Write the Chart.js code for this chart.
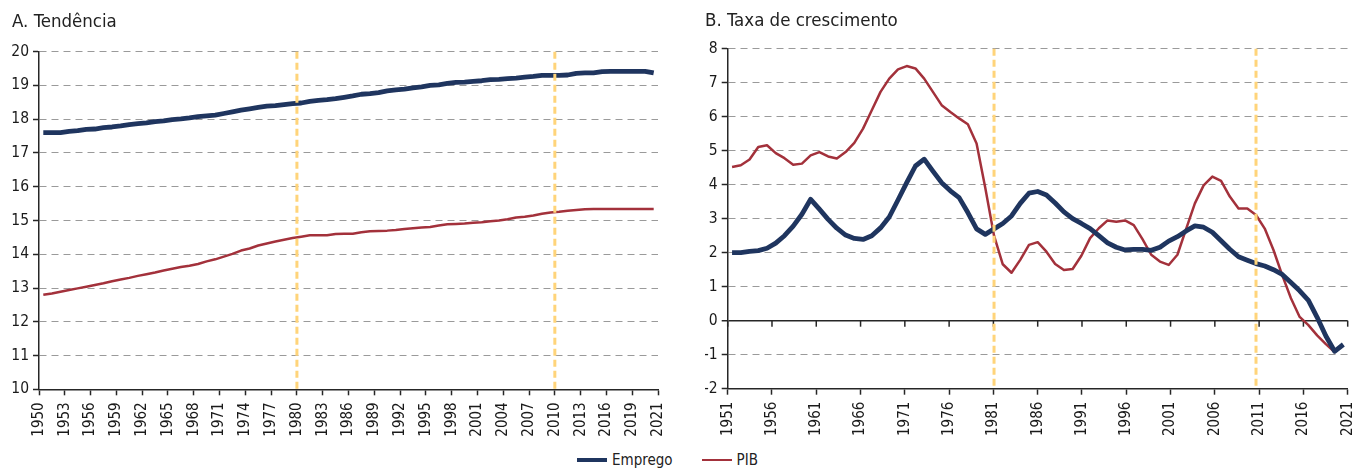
<!DOCTYPE html>
<html>
<head>
<meta charset="utf-8">
<script src="https://cdn.jsdelivr.net/npm/chart.js@4/dist/chart.umd.min.js"></script>
<style>
  body { margin: 0; background: #fff; width: 1355px; height: 468px; position: relative; overflow: hidden; }
  #boxA { position: absolute; left: 0; top: 0; width: 680px; height: 445px; }
  #boxB { position: absolute; left: 680px; top: 0; width: 675px; height: 445px; }
  #legenda { position: absolute; left: 577px; top: 449px; height: 22px; display: flex; align-items: center;
    font-family: 'DejaVu Sans Condensed', 'Liberation Sans Narrow', Arial, sans-serif; font-size: 15px; color: #222; }
  #legenda .item { display: flex; align-items: center; margin-right: 29px; }
  #legenda .amostra { width: 30px; margin-right: 5px; }
</style>
</head>
<body>
<div id="boxA"><canvas id="chartA" width="680" height="445"></canvas></div>
<div id="boxB"><canvas id="chartB" width="675" height="445"></canvas></div>
<div id="legenda"></div>
<script>
// painel A: tendência (anos 1950-2021)
const anosTendencia = [
  1950, 1951, 1952, 1953, 1954, 1955, 1956, 1957, 1958, 1959,
  1960, 1961, 1962, 1963, 1964, 1965, 1966, 1967, 1968, 1969,
  1970, 1971, 1972, 1973, 1974, 1975, 1976, 1977, 1978, 1979,
  1980, 1981, 1982, 1983, 1984, 1985, 1986, 1987, 1988, 1989,
  1990, 1991, 1992, 1993, 1994, 1995, 1996, 1997, 1998, 1999,
  2000, 2001, 2002, 2003, 2004, 2005, 2006, 2007, 2008, 2009,
  2010, 2011, 2012, 2013, 2014, 2015, 2016, 2017, 2018, 2019,
  2020, 2021
];
const empregoTendencia = [
  17.60, 17.60, 17.60, 17.64, 17.66, 17.70, 17.71, 17.75, 17.77, 17.80,
  17.84, 17.87, 17.89, 17.93, 17.95, 17.99, 18.01, 18.04, 18.08, 18.10,
  18.12, 18.17, 18.22, 18.27, 18.31, 18.35, 18.39, 18.40, 18.43, 18.46,
  18.48, 18.53, 18.56, 18.58, 18.61, 18.65, 18.69, 18.74, 18.76, 18.79,
  18.84, 18.87, 18.89, 18.93, 18.96, 19.00, 19.02, 19.06, 19.09, 19.10,
  19.12, 19.14, 19.17, 19.18, 19.20, 19.22, 19.25, 19.27, 19.30, 19.30,
  19.30, 19.31, 19.36, 19.37, 19.37, 19.41, 19.42, 19.42, 19.42, 19.42,
  19.42, 19.37
];
const pibTendencia = [
  12.80, 12.84, 12.89, 12.94, 12.99, 13.04, 13.09, 13.14, 13.20, 13.25,
  13.30, 13.36, 13.41, 13.46, 13.52, 13.57, 13.62, 13.66, 13.71, 13.79,
  13.85, 13.93, 14.01, 14.11, 14.17, 14.26, 14.32, 14.38, 14.43, 14.48,
  14.52, 14.56, 14.56, 14.56, 14.60, 14.61, 14.61, 14.65, 14.68, 14.69,
  14.70, 14.72, 14.75, 14.77, 14.79, 14.81, 14.85, 14.89, 14.90, 14.91,
  14.93, 14.95, 14.98, 15.00, 15.04, 15.09, 15.11, 15.15, 15.20, 15.24,
  15.26, 15.29, 15.31, 15.33, 15.34, 15.34, 15.34, 15.34, 15.34, 15.34,
  15.34, 15.34
];
const ticksTendencia = [
  '1950', '1953', '1956', '1959', '1962', '1965', '1968', '1971', '1974', '1977',
  '1980', '1983', '1986', '1989', '1992', '1995', '1998', '2001', '2004', '2007',
  '2010', '2013', '2016', '2019', '2021'
];
const quebrasTendencia = [1980, 2010];

// painel B: taxa de crescimento (anos 1951-2021)
const anosCrescimento = [
  1951, 1952, 1953, 1954, 1955, 1956, 1957, 1958, 1959, 1960,
  1961, 1962, 1963, 1964, 1965, 1966, 1967, 1968, 1969, 1970,
  1971, 1972, 1973, 1974, 1975, 1976, 1977, 1978, 1979, 1980,
  1981, 1982, 1983, 1984, 1985, 1986, 1987, 1988, 1989, 1990,
  1991, 1992, 1993, 1994, 1995, 1996, 1997, 1998, 1999, 2000,
  2001, 2002, 2003, 2004, 2005, 2006, 2007, 2008, 2009, 2010,
  2011, 2012, 2013, 2014, 2015, 2016, 2017, 2018, 2019, 2020,
  2021
];
const empregoCrescimento = [
  2.00, 2.00, 2.04, 2.06, 2.13, 2.28, 2.50, 2.78, 3.13, 3.57,
  3.28, 2.98, 2.72, 2.52, 2.42, 2.39, 2.50, 2.73, 3.05, 3.55,
  4.06, 4.55, 4.75, 4.40, 4.06, 3.82, 3.62, 3.18, 2.70, 2.54,
  2.70, 2.86, 3.08, 3.45, 3.75, 3.80, 3.70, 3.46, 3.20, 3.00,
  2.86, 2.71, 2.50, 2.29, 2.16, 2.08, 2.10, 2.10, 2.07, 2.16,
  2.34, 2.47, 2.64, 2.79, 2.75, 2.60, 2.35, 2.10, 1.88, 1.78,
  1.68, 1.61, 1.50, 1.36, 1.12, 0.88, 0.60, 0.10, -0.45, -0.90,
  -0.70
];
const pibCrescimento = [
  4.52, 4.57, 4.74, 5.11, 5.16, 4.93, 4.78, 4.59, 4.62, 4.86,
  4.96, 4.83, 4.77, 4.96, 5.23, 5.65, 6.19, 6.73, 7.12, 7.39,
  7.49, 7.42, 7.12, 6.73, 6.34, 6.14, 5.95, 5.78, 5.21, 3.90,
  2.50, 1.66, 1.41, 1.79, 2.23, 2.31, 2.03, 1.67, 1.49, 1.52,
  1.91, 2.43, 2.72, 2.95, 2.91, 2.95, 2.81, 2.40, 1.94, 1.74,
  1.64, 1.94, 2.70, 3.45, 3.98, 4.24, 4.11, 3.65, 3.30, 3.30,
  3.11, 2.71, 2.08, 1.34, 0.66, 0.11, -0.13, -0.43, -0.69, -0.92,
  -0.72
];
const ticksCrescimento = [
  '1951', '1956', '1961', '1966', '1971', '1976', '1981', '1986',
  '1991', '1996', '2001', '2006', '2011', '2016', '2021'
];
const quebrasCrescimento = [1981, 2011];

const NAVY = '#1f355f';
const RED = '#a3313b';
const GRID = '#9a9a9a';
const AXIS = '#262626';
const YELLOW = '#ffd47a';
const FONT = "'DejaVu Sans Condensed', 'Liberation Sans Narrow', Arial, sans-serif";

// linhas verticais tracejadas amarelas
const quebras = {
  id: 'quebras',
  afterDatasetsDraw(chart, args, opts) {
    const { ctx, chartArea } = chart;
    const scale = chart.scales[opts.axis];
    ctx.save();
    ctx.strokeStyle = YELLOW;
    ctx.lineWidth = 3;
    ctx.setLineDash([7, 4]);
    opts.values.forEach(v => {
      const x = scale.getPixelForValue(v);
      ctx.beginPath();
      ctx.moveTo(x, chartArea.top);
      ctx.lineTo(x, chartArea.bottom);
      ctx.stroke();
    });
    ctx.restore();
  }
};

// marcas do eixo x sobre a linha do zero (painel B)
const marcasZero = {
  id: 'marcasZero',
  beforeDatasetsDraw(chart) {
    const { ctx } = chart;
    const xs = chart.scales.xt;
    const y0 = chart.scales.y.getPixelForValue(0);
    ctx.save();
    ctx.strokeStyle = AXIS;
    ctx.lineWidth = 1.5;
    xs.ticks.forEach(t => {
      const x = xs.getPixelForValue(t.value);
      ctx.beginPath();
      ctx.moveTo(x, y0);
      ctx.lineTo(x, y0 + 6);
      ctx.stroke();
    });
    ctx.restore();
  }
};

function eixoRotulos(n, passo, rotulos, altura) {
  return {
    type: 'linear',
    position: 'bottom',
    min: 0,
    max: n,
    ticks: {
      stepSize: passo,
      autoSkip: false,
      maxRotation: 90,
      minRotation: 90,
      padding: 7,
      color: '#1a1a1a',
      font: { family: FONT, size: 15 },
      callback: (v, i) => rotulos[i]
    },
    grid: { drawOnChartArea: false, drawTicks: true, tickLength: 6, tickColor: AXIS, tickWidth: 1.5 },
    border: { color: AXIS, width: 1.5 },
    afterFit: s => { s.height = altura; s.paddingLeft = 0; s.paddingRight = 0; }
  };
}

function eixoY(min, max, largura, zeroSolido) {
  return {
    min: min,
    max: max,
    ticks: {
      stepSize: 1,
      padding: 4,
      color: '#1a1a1a',
      font: { family: FONT, size: 15.5 },
      callback: v => String(v)
    },
    grid: {
      color: c => (zeroSolido && c.tick && c.tick.value === 0) ? AXIS : GRID,
      lineWidth: c => (zeroSolido && c.tick && c.tick.value === 0) ? 1.5 : 1,
      tickColor: AXIS,
      tickLength: 6,
      tickWidth: 1.5
    },
    border: {
      color: AXIS,
      width: 1.5,
      dash: c => (zeroSolido && c.tick && c.tick.value === 0) ? [] : [7, 5]
    },
    afterFit: s => { s.width = largura; s.paddingTop = 0; s.paddingBottom = 0; }
  };
}

function titulo(texto, topo, baixo) {
  return {
    display: true,
    text: texto,
    align: 'start',
    color: '#222',
    font: { family: FONT, size: 18.5, weight: 'normal' },
    padding: { top: topo, bottom: baixo }
  };
}

const chartA = new Chart(document.getElementById('chartA'), {
  type: 'line',
  data: {
    labels: anosTendencia,
    datasets: [
      { label: 'Emprego', data: empregoTendencia, borderColor: NAVY, backgroundColor: NAVY, borderWidth: 4.8,
        pointRadius: 0, tension: 0, borderJoinStyle: 'round' },
      { label: 'PIB', data: pibTendencia, borderColor: RED, backgroundColor: RED, borderWidth: 2.5,
        pointRadius: 0, tension: 0, borderJoinStyle: 'round' }
    ]
  },
  options: {
    responsive: false,
    animation: false,
    layout: { padding: { left: 12, right: 22, top: 0, bottom: 0 } },
    plugins: {
      legend: { display: false },
      tooltip: { enabled: false },
      title: titulo('A. Tendência', 10.8, 18.7),
      quebras: { axis: 'xt', values: quebrasTendencia.map(a => anosTendencia.indexOf(a)) }
    },
    scales: {
      x: { type: 'category', offset: true, display: false },
      xt: eixoRotulos(anosTendencia.length, 3, ticksTendencia, 55.7),
      y: eixoY(10, 20, 27, false)
    }
  },
  plugins: [quebras]
});

const chartB = new Chart(document.getElementById('chartB'), {
  type: 'line',
  data: {
    labels: anosCrescimento,
    datasets: [
      { label: 'Emprego', data: empregoCrescimento, borderColor: NAVY, backgroundColor: NAVY, borderWidth: 4.8,
        pointRadius: 0, tension: 0, borderJoinStyle: 'round' },
      { label: 'PIB', data: pibCrescimento, borderColor: RED, backgroundColor: RED, borderWidth: 2.5,
        pointRadius: 0, tension: 0, borderJoinStyle: 'round' }
    ]
  },
  options: {
    responsive: false,
    animation: false,
    layout: { padding: { left: 25, right: 7.3, top: 0, bottom: 0 } },
    plugins: {
      legend: { display: false },
      tooltip: { enabled: false },
      title: titulo('B. Taxa de crescimento', 9.8, 16.7),
      quebras: { axis: 'x', values: quebrasCrescimento.map(a => anosCrescimento.indexOf(a)) }
    },
    scales: {
      x: { type: 'category', offset: true, display: false },
      xt: eixoRotulos(anosCrescimento.length - 1, 5, ticksCrescimento, 56.3),
      y: eixoY(-2, 8, 22.7, true)
    }
  },
  plugins: [quebras, marcasZero]
});

// legenda comum, montada a partir das séries
const legenda = document.getElementById('legenda');
chartA.data.datasets.forEach(ds => {
  const item = document.createElement('div');
  item.className = 'item';
  const amostra = document.createElement('div');
  amostra.className = 'amostra';
  amostra.style.height = (ds.borderWidth > 3 ? 4 : 2) + 'px';
  amostra.style.background = ds.borderColor;
  const txt = document.createElement('span');
  txt.textContent = ds.label;
  item.appendChild(amostra);
  item.appendChild(txt);
  legenda.appendChild(item);
});
</script>
</body>
</html>
